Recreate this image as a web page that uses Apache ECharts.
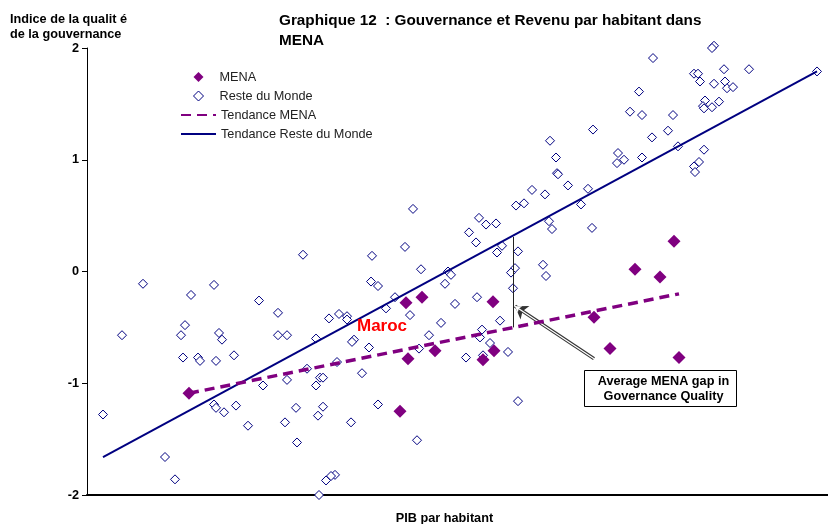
<!DOCTYPE html>
<html><head><meta charset="utf-8">
<script src="https://cdn.jsdelivr.net/npm/echarts@6/dist/echarts.min.js"></script>
<style>html,body{margin:0;padding:0;background:#fff}#c{width:828px;height:524px}</style>
</head><body><div id="c"></div>
<script>
// Axis tick values (governance index)
const yTicks = [-2, -1, 0, 1, 2];

// MENA countries: [PIB par habitant (arbitrary units), governance index]
const mena = [
  [102,-1.09],[313,-1.25],[319,-0.28],[335,-0.23],[321,-0.78],[348,-0.71],
  [406,-0.27],[396,-0.79],[407,-0.71],[507,-0.41],[523,-0.69],[548,0.02],
  [573,-0.05],[587,0.27],[592,-0.77]
];

// Rest of the world
const resteDuMonde = [
  [627,2.02],[625,2.00],[566,1.91],[637,1.81],[662,1.81],[607,1.77],[611,1.77],
  [613,1.70],[627,1.68],[638,1.70],[640,1.64],[646,1.65],[552,1.61],[543,1.43],
  [555,1.40],[586,1.40],[618,1.53],[616,1.48],[617,1.46],[625,1.47],[632,1.52],
  [506,1.27],[581,1.26],[565,1.20],[591,1.12],[617,1.09],[531,1.06],[530,0.97],
  [537,1.00],[555,1.02],[612,0.98],[607,0.94],[608,0.89],[501,0.74],[494,0.60],
  [505,0.39],[730,1.79],[463,1.17],[469,1.02],[470,0.88],[471,0.87],[481,0.77],
  [445,0.73],[458,0.69],[429,0.59],[437,0.61],[326,0.56],[392,0.48],[399,0.42],
  [409,0.43],[462,0.45],[465,0.38],[382,0.35],[389,0.26],[318,0.22],[285,0.14],
  [410,0.17],[415,0.23],[431,0.18],[456,0.06],[334,0.02],[361,0.00],[364,-0.03],
  [428,0.03],[424,-0.01],[216,0.15],[459,-0.04],[358,-0.11],[426,-0.15],[390,-0.23],
  [368,-0.29],[354,-0.46],[342,-0.57],[413,-0.44],[395,-0.52],[393,-0.59],[403,-0.64],
  [284,-0.09],[291,-0.13],[308,-0.23],[299,-0.33],[323,-0.39],[252,-0.38],[260,-0.40],
  [260,-0.43],[242,-0.42],[267,-0.61],[265,-0.63],[282,-0.68],[332,-0.69],[379,-0.77],
  [396,-0.75],[421,-0.72],[250,-0.81],[275,-0.91],[291,-1.19],[431,-1.16],[264,-1.35],
  [330,-1.51],[248,-1.82],[56,-0.11],[127,-0.12],[104,-0.21],[172,-0.26],[191,-0.37],
  [98,-0.48],[94,-0.57],[35,-0.57],[132,-0.55],[135,-0.61],[191,-0.57],[200,-0.57],
  [229,-0.60],[96,-0.77],[111,-0.77],[113,-0.80],[129,-0.80],[147,-0.75],[220,-0.87],
  [233,-0.95],[236,-0.95],[229,-1.02],[176,-1.02],[200,-0.97],[127,-1.19],[129,-1.22],
  [137,-1.26],[16,-1.28],[149,-1.20],[209,-1.22],[236,-1.21],[231,-1.29],[161,-1.38],
  [198,-1.35],[210,-1.53],[78,-1.66],[88,-1.86],[239,-1.87],[244,-1.83],[232,-2.00]
];

// Trend lines
const trendMena = [[102,-1.09],[592,-0.20]];
const trendReste = [[16,-1.66],[730,1.79]];

// Annotation: average gap between the two trends, and the arrow pointing to it
const gapLine = [[426,0.31],[426,-0.50]];
const arrowLine = [[507,-0.78],[428,-0.31]];

const FONT = '"Liberation Sans", Arial, Helvetica, sans-serif';
const PURPLE = '#800080';
const NAVY = '#000080';
const legendText = {fontFamily: FONT, fontSize: 12.7, color: '#222', lineHeight: 14};

const chart = echarts.init(document.getElementById('c'), null, {renderer: 'canvas'});
chart.setOption({
  animation: false,
  backgroundColor: '#fff',
  title: {
    text: 'Graphique 12  : Gouvernance et Revenu par habitant dans\nMENA',
    left: 279, top: 11, padding: 0,
    textStyle: {fontFamily: FONT, fontSize: 15.3, fontWeight: 'bold', color: '#000', lineHeight: 20}
  },
  legend: [
    {
      data: [
        {name: 'MENA', itemStyle: {color: PURPLE, opacity: 1}},
        {name: 'Reste du Monde', itemStyle: {color: '#fff', borderColor: NAVY, borderWidth: 1, opacity: 1}}
      ],
      orient: 'vertical', left: 193, top: 67, padding: 0,
      itemWidth: 10, itemHeight: 10, itemGap: -1, selectedMode: false,
      textStyle: Object.assign({padding: [6, 0, 0, 11]}, legendText)
    },
    {
      data: [
        {name: 'Tendance MENA', itemStyle: {opacity: 0}},
        {name: 'Tendance Reste du Monde', itemStyle: {opacity: 0}}
      ],
      orient: 'vertical', left: 180, top: 105, padding: 0,
      itemWidth: 35, itemHeight: 10, itemGap: -1, selectedMode: false,
      textStyle: Object.assign({padding: [6, 0, 0, 0]}, legendText)
    }
  ],
  grid: {left: 87, right: 0, top: 48, bottom: 29, containLabel: false, outerBoundsMode: 'none'},
  xAxis: {
    type: 'value', min: 0, max: 741,
    axisLine: {show: true, onZero: false, lineStyle: {color: '#000', width: 2}},
    axisTick: {show: false}, axisLabel: {show: false}, splitLine: {show: false}
  },
  yAxis: {
    type: 'value', min: yTicks[0], max: yTicks[yTicks.length - 1], interval: 1,
    axisLine: {show: true, onZero: false, lineStyle: {color: '#000', width: 1}},
    axisTick: {show: true, length: 5, inside: false, lineStyle: {color: '#000'}},
    axisLabel: {fontFamily: FONT, fontSize: 12.7, fontWeight: 'bold', color: '#000', margin: 8},
    splitLine: {show: false}
  },
  series: [
    {
      name: 'Reste du Monde', type: 'scatter', data: resteDuMonde, clip: false,
      symbol: 'diamond', symbolSize: 9,
      itemStyle: {color: '#fff', borderColor: NAVY, borderWidth: 1, opacity: 1},
      emphasis: {disabled: true}, z: 2
    },
    {
      name: 'Tendance Reste du Monde', type: 'line', data: trendReste,
      symbol: 'none', showSymbol: false, color: NAVY,
      lineStyle: {color: NAVY, width: 2, type: 'solid'}, z: 3
    },
    {
      name: 'MENA', type: 'scatter', data: mena, clip: false,
      symbol: 'diamond', symbolSize: 13,
      itemStyle: {color: PURPLE, opacity: 1}, emphasis: {disabled: true}, z: 4
    },
    {
      name: 'Tendance MENA', type: 'line', data: trendMena,
      symbol: 'none', showSymbol: false, color: PURPLE,
      lineStyle: {color: PURPLE, width: 3.5, type: [10, 6]}, z: 5
    },
    {
      name: 'gap', type: 'line', data: [], z: 6,
      markLine: {
        silent: true, symbol: ['none', 'none'], label: {show: false}, animation: false,
        lineStyle: {color: '#222', width: 1, type: 'solid'},
        data: [[{coord: gapLine[0]}, {coord: gapLine[1]}]]
      }
    },
    {
      name: 'arrowOuter', type: 'line', data: [], z: 7,
      markLine: {
        silent: true, symbol: ['none', 'arrow'], symbolSize: 12, label: {show: false}, animation: false,
        lineStyle: {color: '#333', width: 3.5, type: 'solid'},
        data: [[{coord: arrowLine[0]}, {coord: arrowLine[1]}]]
      }
    },
    {
      name: 'arrowInner', type: 'line', data: [], z: 8,
      markLine: {
        silent: true, symbol: ['none', 'arrow'], symbolSize: 6, label: {show: false}, animation: false,
        lineStyle: {color: '#fff', width: 1.2, type: 'solid'},
        data: [[{coord: arrowLine[0]}, {coord: arrowLine[1]}]]
      }
    }
  ],
  graphic: [
    {type: 'text', x: 10, y: 11.5, z: 10, style: {
      text: 'Indice de la qualit é\nde la gouvernance', fontFamily: FONT, fontSize: 12.7,
      fontWeight: 'bold', fill: '#000', lineHeight: 15, align: 'left', verticalAlign: 'top'}},
    {type: 'text', x: 444.5, y: 518, z: 10, style: {
      text: 'PIB par habitant', fontFamily: FONT, fontSize: 12.7, fontWeight: 'bold',
      fill: '#000', align: 'center', verticalAlign: 'middle'}},
    {type: 'text', x: 357, y: 326, z: 10, style: {
      text: 'Maroc', fontFamily: FONT, fontSize: 17, fontWeight: 'bold',
      fill: '#ff0000', align: 'left', verticalAlign: 'middle'}},
    {type: 'rect', z: 10, shape: {x: 584.5, y: 370.5, width: 152, height: 36},
      style: {fill: '#fff', stroke: '#000', lineWidth: 1}},
    {type: 'text', x: 663.5, y: 388.5, z: 11, style: {
      text: 'Average MENA gap in\nGovernance Quality', fontFamily: FONT, fontSize: 12.7,
      fontWeight: 'bold', fill: '#000', lineHeight: 15, align: 'center', verticalAlign: 'middle'}}
  ]
});
</script>
</body></html>
